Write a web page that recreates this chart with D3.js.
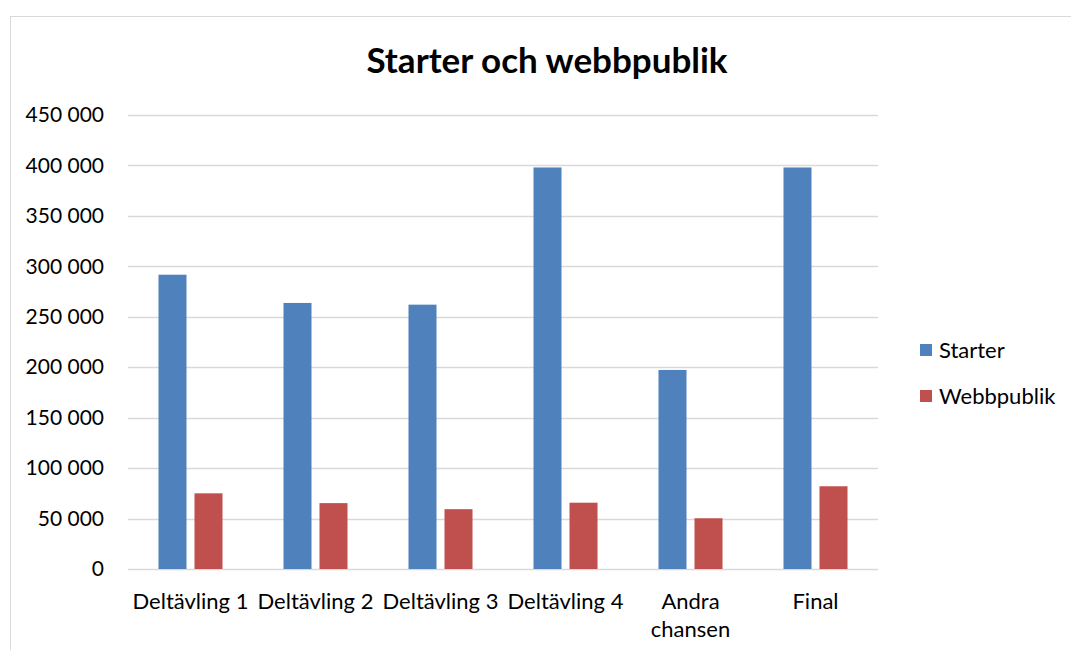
<!DOCTYPE html>
<html><head><meta charset="utf-8">
<script src="https://cdn.jsdelivr.net/npm/d3@7"></script>
<style>body{margin:0;background:#fff;}svg{display:block;font-family:Lato,"Open Sans",sans-serif;}</style>
</head><body>
<svg id="chart" width="1071" height="650"></svg>
<script>
const categories = ["Deltävling 1","Deltävling 2","Deltävling 3","Deltävling 4","Andra chansen","Final"];
const categoryLines = [["Deltävling 1"],["Deltävling 2"],["Deltävling 3"],["Deltävling 4"],["Andra","chansen"],["Final"]];
const seriesNames = ["Starter","Webbpublik"];
const starter = [291700, 263700, 262000, 398000, 197300, 398000];
const webbpublik = [75000, 65300, 59300, 65700, 50300, 82000];
const tickValues = [0,50000,100000,150000,200000,250000,300000,350000,400000,450000];
const colors = ["#4f81bd","#c0504d"];

(function(){
const svg = d3.select("#chart");
// frame
svg.append("rect").attr("x",10.5).attr("y",16.5).attr("width",1100).attr("height",700)
  .attr("fill","none").attr("stroke","#d9d9d9").attr("stroke-width",1);

const pl=128, pr=878, pt=115, pb=569;
const x = d3.scaleBand().domain(categories).range([pl,pr]);
const y = d3.scaleLinear().domain([0,450000]).range([pb,pt]);
const inner = d3.scaleBand().domain(seriesNames).range([0,x.bandwidth()]).paddingInner(0.222).paddingOuter(0.847);

const fmt = v => d3.format(",")(v).replace(/,/g," ");
// grid
svg.append("g").selectAll("line").data(tickValues).join("line")
  .attr("x1",pl).attr("x2",pr)
  .attr("y1",d=>Math.round(y(d))+0.5).attr("y2",d=>Math.round(y(d))+0.5)
  .attr("stroke","#d9d9d9").attr("stroke-width",1.3);
const yAxis = d3.axisLeft(y).tickValues(tickValues).tickFormat(fmt).tickSize(0).tickPadding(24);
const ga = svg.append("g").attr("transform",`translate(${pl},0)`).call(yAxis);
ga.select(".domain").remove();
ga.selectAll("text").attr("font-size",21).attr("fill","#000").attr("font-family","Lato");

const data = [starter, webbpublik];
seriesNames.forEach((s,si)=>{
  svg.append("g").selectAll("rect").data(categories).join("rect")
    .attr("x",c=>x(c)+inner(s)).attr("width",inner.bandwidth())
    .attr("y",(c,i)=>y(data[si][i])).attr("height",(c,i)=>y(0)-y(data[si][i]))
    .attr("fill",colors[si]);
});

// x labels
const xl = svg.append("g");
categories.forEach((c,i)=>{
  const t = xl.append("text").attr("x",x(c)+x.bandwidth()/2).attr("y",609)
    .attr("text-anchor","middle").attr("font-size",22).attr("fill","#000");
  categoryLines[i].forEach((ln,j)=>t.append("tspan").attr("x",x(c)+x.bandwidth()/2).attr("dy",j?28:0).text(ln));
});

// title
svg.append("text").attr("x",547).attr("y",73).attr("text-anchor","middle")
  .attr("font-size",35).attr("font-weight","bold").attr("fill","#000").text("Starter och webbpublik");

// legend
const lg = svg.append("g");
seriesNames.forEach((s,i)=>{
  const yy = 350 + i*46;
  lg.append("rect").attr("x",920).attr("y",yy-6).attr("width",12).attr("height",12).attr("fill",colors[i]);
  lg.append("text").attr("x",939).attr("y",yy+8).attr("font-size",22).attr("fill","#000").text(s);
});
})();
</script>
</body></html>
